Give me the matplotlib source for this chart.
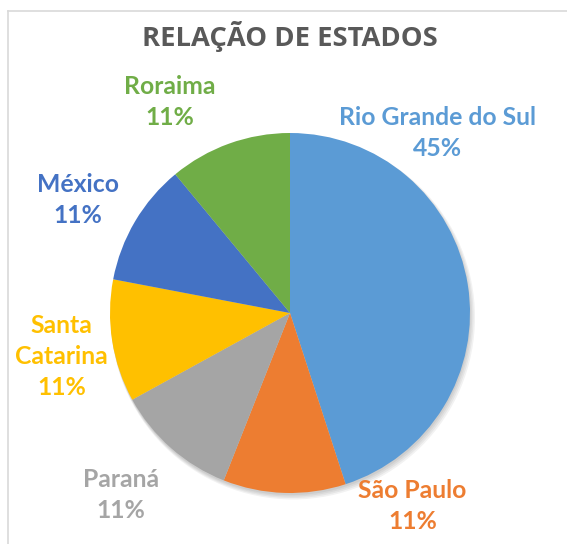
import matplotlib.pyplot as plt
from matplotlib.lines import Line2D
from matplotlib.patches import Circle

estados = ["Rio Grande do Sul", "São Paulo", "Paraná", "Santa Catarina", "México", "Roraima"]
percentuais = [45, 11, 11, 11, 11, 11]
cores = ["#5B9BD5", "#ED7D31", "#A5A5A5", "#FFC000", "#4472C4", "#70AD47"]

# label block centres, in pie radius units
label_pos = [(0.82, 1.00), (0.68, -1.07), (-0.94, -1.01), (-1.27, -0.24), (-1.18, 0.63), (-0.67, 1.17)]

W, H = 567, 544
R = 180  # pie radius in px
cx, cy = 290, 313
L = 1.6

fig = plt.figure(figsize=(W / 100, H / 100), dpi=100)
ax = fig.add_axes([(cx - L * R) / W, (H - cy - L * R) / H, 2 * L * R / W, 2 * L * R / H])
ax.axis("off")

# soft shadow under the pie
for k in range(4):
    ax.add_patch(Circle((0.004 + 0.004 * k, -0.012 - 0.004 * k), 1.0 + 0.004 * k,
                        color="black", alpha=0.05, lw=0, zorder=0))

ax.pie(percentuais, colors=cores, startangle=90, counterclock=False,
       wedgeprops=dict(linewidth=0, zorder=1))
ax.set_xlim(-L, L)
ax.set_ylim(-L, L)

for nome, pct, cor, (x, y) in zip(estados, percentuais, cores, label_pos):
    txt = nome
    if nome == "Santa Catarina":
        txt = "Santa\nCatarina"
    ax.text(x, y, f"{txt}\n{pct}%", ha="center", va="center", color=cor,
            fontsize=17.8, fontweight="bold", family="Lato", linespacing=1.42)

fig.text(cx / W, 1 - 36 / H, "RELAÇÃO DE ESTADOS", ha="center", va="center",
         color="#595959", fontsize=19.7, fontweight="bold", family="Open Sans")

# chart area border
fig.add_artist(Line2D([8 / W, 8 / W], [0, 1 - 11 / H], color="#D9D9D9", lw=1.2))
fig.add_artist(Line2D([8 / W, 1], [1 - 11 / H, 1 - 11 / H], color="#D9D9D9", lw=1.2))

fig.savefig("out.png", dpi=100)
